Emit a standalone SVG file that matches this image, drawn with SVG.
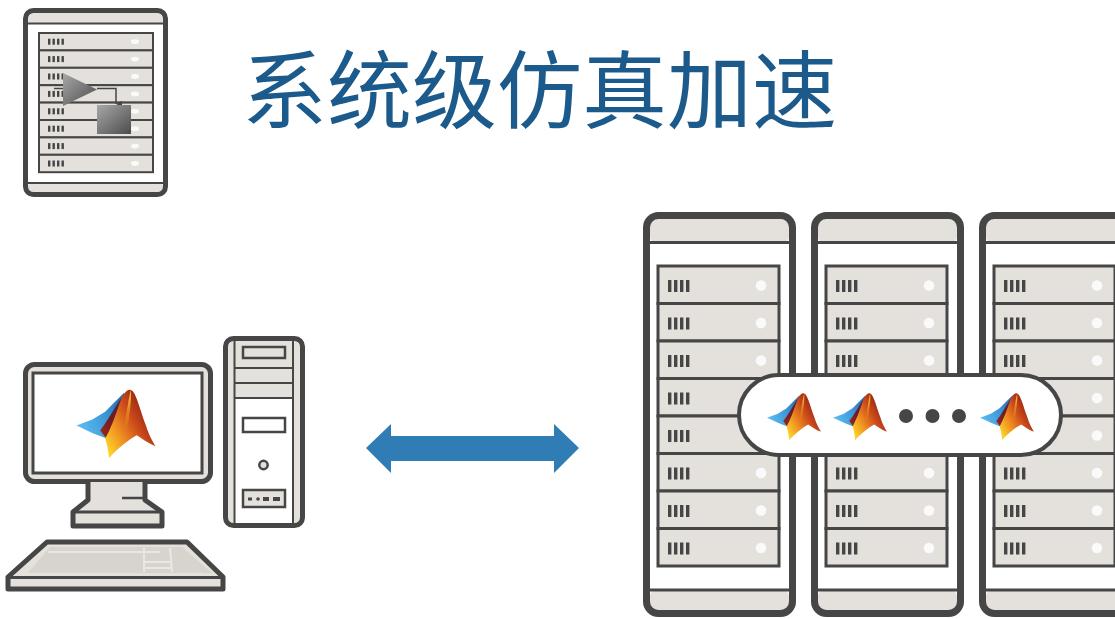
<svg xmlns="http://www.w3.org/2000/svg" width="1115" height="619" viewBox="0 0 1115 619">
  <style>
    .ln { stroke: #464646; fill: none; }
    .pn { fill: #e4e1dc; stroke: #464646; }
    .wh { fill: #ffffff; stroke: #464646; }
    .dk { fill: #464646; }
    .title { font-family: "Noto Sans CJK SC", "Noto Sans", sans-serif; font-size: 85px; fill: #1b5a8b; }
  </style>
  <defs>
    <linearGradient id="gBlue" x1="0" y1="0.6" x2="1" y2="0.2">
      <stop offset="0" stop-color="#5cbcf0"/>
      <stop offset="0.55" stop-color="#3a96d6"/>
      <stop offset="1" stop-color="#2168aa"/>
    </linearGradient>
    <linearGradient id="gFold" x1="0" y1="1" x2="1" y2="0">
      <stop offset="0" stop-color="#a02a1c"/>
      <stop offset="0.5" stop-color="#6e1a26"/>
      <stop offset="1" stop-color="#4a2a50"/>
    </linearGradient>
    <linearGradient id="gBody" x1="0.15" y1="1" x2="1" y2="0.35">
      <stop offset="0" stop-color="#fbd22b"/>
      <stop offset="0.3" stop-color="#f09020"/>
      <stop offset="0.62" stop-color="#cc4a1a"/>
      <stop offset="1" stop-color="#861a12"/>
    </linearGradient>
    <linearGradient id="gHi" x1="0" y1="0" x2="0" y2="1">
      <stop offset="0" stop-color="#ffe24a"/>
      <stop offset="1" stop-color="#f6a21f" stop-opacity="0"/>
    </linearGradient>
    <linearGradient id="gGrey" x1="0" y1="0" x2="1" y2="1">
      <stop offset="0" stop-color="#a8a8a8"/>
      <stop offset="1" stop-color="#4c4c4c"/>
    </linearGradient>

    <!-- membrane logo -->
    <symbol id="logo" viewBox="0 0 80 72" overflow="visible">
      <path d="M0,37 L16,31 L29,23 L39,13 L48,4 L50,10 L42,26 L34,40 L30,50 L17,45 Z" fill="url(#gBlue)"/>
      <path d="M24,42 C31,33 37,22 44,11 L46,9 C42,24 36,38 30,50 Z" fill="url(#gFold)"/>
      <path d="M46,8 C49,3 52,0 55,1 C60,2 64,20 70,36 C73,46 77,53 80,58 C72,55 66,50 61,47 C52,52 40,62 33,70 C32,62 31,56 29,50 C34,42 39,28 46,8 Z" fill="url(#gBody)"/>
      <path d="M55,1 C52,14 50,28 48,42 L52,40 C53,27 56,13 55,1 Z" fill="url(#gHi)"/>
    </symbol>

    <!-- server unit, large rack -->
    <symbol id="unit" overflow="visible">
      <rect x="0" y="0" width="121" height="37.5" class="pn" stroke-width="3"/>
      <rect x="10" y="14" width="3.4" height="12" class="dk"/>
      <rect x="16" y="14" width="3.4" height="12" class="dk"/>
      <rect x="22" y="14" width="3.4" height="12" class="dk"/>
      <rect x="28" y="14" width="3.4" height="12" class="dk"/>
      <circle cx="103" cy="19.5" r="5.3" fill="#fafafa"/>
    </symbol>

    <!-- full rack cabinet -->
    <symbol id="rack" overflow="visible">
      <rect x="3.5" y="3.5" width="146" height="398" rx="12" fill="#ffffff"/>
      <rect x="7" y="7" width="139" height="24" rx="6" fill="#e4e1dc"/>
      <rect x="7" y="378" width="139" height="21" rx="6" fill="#e4e1dc"/>
      <line x1="7" y1="30.5" x2="146" y2="30.5" class="ln" stroke-width="3"/>
      <line x1="7" y1="378" x2="146" y2="378" class="ln" stroke-width="3"/>
      <use href="#unit" x="15" y="54"/>
      <use href="#unit" x="15" y="91.5"/>
      <use href="#unit" x="15" y="129"/>
      <use href="#unit" x="15" y="166.5"/>
      <use href="#unit" x="15" y="204"/>
      <use href="#unit" x="15" y="241.5"/>
      <use href="#unit" x="15" y="279"/>
      <use href="#unit" x="15" y="316.5"/>
      <rect x="3.5" y="3.5" width="146" height="398" rx="12" class="ln" stroke-width="7"/>
    </symbol>

    <!-- server unit, small icon -->
    <symbol id="sunit" overflow="visible">
      <rect x="0" y="0" width="114" height="17.4" class="pn" stroke-width="2"/>
      <rect x="9" y="5.7" width="2.4" height="6" class="dk"/>
      <rect x="13.5" y="5.7" width="2.4" height="6" class="dk"/>
      <rect x="18" y="5.7" width="2.4" height="6" class="dk"/>
      <rect x="22.5" y="5.7" width="2.4" height="6" class="dk"/>
      <ellipse cx="96" cy="8.7" rx="4" ry="2.4" fill="#fafafa"/>
    </symbol>

    <marker id="tipDown" viewBox="0 0 6 6" refX="3" refY="6" markerWidth="6" markerHeight="6" markerUnits="userSpaceOnUse" orient="auto">
      <path d="M0,0 L6,0 L3,6 Z" fill="#464646"/>
    </marker>
  </defs>

  <rect width="1115" height="619" fill="#ffffff"/>

  <!-- heading -->
  <g id="title">
    <text class="title" x="242" y="122">系统级仿真加速</text>
  </g>

  <!-- simulation-on-server icon -->
  <g id="sim-server">
    <rect x="25.5" y="10.5" width="140" height="184" rx="8" fill="#ffffff"/>
    <rect x="28" y="13" width="135" height="11" rx="4" fill="#e4e1dc"/>
    <rect x="28" y="183" width="135" height="9" rx="4" fill="#e4e1dc"/>
    <line x1="28" y1="23.5" x2="163" y2="23.5" class="ln" stroke-width="2"/>
    <line x1="28" y1="183" x2="163" y2="183" class="ln" stroke-width="2"/>
    <use href="#sunit" x="39" y="33"/>
    <use href="#sunit" x="39" y="50.4"/>
    <use href="#sunit" x="39" y="67.8"/>
    <use href="#sunit" x="39" y="85.2"/>
    <use href="#sunit" x="39" y="102.6"/>
    <use href="#sunit" x="39" y="120"/>
    <use href="#sunit" x="39" y="137.4"/>
    <use href="#sunit" x="39" y="154.8"/>
    <rect x="25.5" y="10.5" width="140" height="184" rx="8" class="ln" stroke-width="5"/>
    <!-- gain block feeding a subsystem -->
    <line x1="54" y1="88.5" x2="64" y2="88.5" class="ln" stroke-width="1.5"/>
    <polyline points="97,88.5 116,88.5 116,104" class="ln" stroke-width="1.5" marker-end="url(#tipDown)"/>
    <polygon points="63,73 63,106 97,89.5" fill="url(#gGrey)"/>
    <rect x="97" y="105" width="34" height="29" fill="url(#gGrey)"/>
  </g>

  <!-- desktop workstation -->
  <g id="workstation">
    <!-- monitor -->
    <rect x="25.5" y="364.5" width="185" height="117" rx="9" class="pn" stroke-width="5"/>
    <rect x="33" y="373" width="169" height="100" class="wh" stroke-width="3"/>
    <use href="#logo" x="76" y="389" width="80" height="71"/>
    <path d="M88,482 L88,500 L73,512 L73,526 L162,526 L162,512 L145,500 L145,482" class="pn" stroke-width="5" stroke-linejoin="round"/>
    <line x1="73" y1="512" x2="162" y2="512" class="ln" stroke-width="3"/>
    <line x1="122" y1="498" x2="145" y2="498" class="ln" stroke-width="2.5"/>
    <!-- keyboard -->
    <path d="M47,542 L187,542 L223,577 L223,589 L8,589 L8,577 Z" class="pn" stroke-width="5" stroke-linejoin="round"/>
    <path d="M50,547 L182,547 L212,573 L28,573 Z" fill="#d7d4ce"/>
    <line x1="48" y1="552" x2="160" y2="552" stroke="#e9e7e3" stroke-width="2"/>
    <line x1="144" y1="548" x2="144" y2="572" stroke="#e9e7e3" stroke-width="2"/>
    <line x1="170" y1="548" x2="172" y2="572" stroke="#e9e7e3" stroke-width="2"/>
    <line x1="144" y1="562" x2="171" y2="562" stroke="#e9e7e3" stroke-width="2"/>
    <line x1="144" y1="568" x2="171" y2="568" stroke="#e9e7e3" stroke-width="2"/>
    <line x1="8" y1="577.5" x2="223" y2="577.5" class="ln" stroke-width="3"/>
    <!-- tower -->
    <rect x="225.5" y="338.5" width="77" height="187" rx="8" class="pn" stroke-width="5"/>
    <rect x="234.5" y="398" width="58.5" height="125" fill="#ffffff"/>
    <line x1="234.5" y1="341" x2="234.5" y2="523" class="ln" stroke-width="2"/>
    <line x1="293" y1="341" x2="293" y2="523" class="ln" stroke-width="2"/>
    <line x1="234.5" y1="368" x2="293" y2="368" class="ln" stroke-width="2"/>
    <line x1="234.5" y1="383" x2="293" y2="383" class="ln" stroke-width="2"/>
    <line x1="234.5" y1="398" x2="293" y2="398" class="ln" stroke-width="2"/>
    <rect x="243" y="347" width="42" height="11" class="pn" stroke-width="2.5"/>
    <rect x="243" y="418" width="42" height="14" class="wh" stroke-width="2.5"/>
    <circle cx="263.5" cy="465" r="4.2" class="pn" stroke-width="2.5"/>
    <rect x="243" y="490" width="42" height="17" class="pn" stroke-width="2.5"/>
    <rect x="248" y="497.5" width="4" height="3" class="dk"/>
    <circle cx="258" cy="499" r="1.8" class="dk"/>
    <rect x="263" y="497" width="6" height="4" class="dk"/>
    <rect x="273" y="497" width="7" height="4" class="dk"/>
  </g>

  <!-- bidirectional link -->
  <g id="connectors">
    <polygon points="366,448 391,424 391,436 554,436 554,424 579,448 554,473 554,461 391,461 391,473" fill="#2f7db4"/>
  </g>

  <!-- cluster racks -->
  <g id="rack-1"><use href="#rack" x="643" y="212"/></g>
  <g id="rack-2"><use href="#rack" x="811" y="212"/></g>
  <g id="rack-3"><use href="#rack" x="979" y="212"/></g>

  <!-- parallel workers -->
  <g id="workers">
    <rect x="739" y="375" width="322" height="80" rx="40" class="wh" stroke-width="4"/>
    <use href="#logo" x="767" y="392" width="54" height="50"/>
    <use href="#logo" x="833" y="392" width="54" height="50"/>
    <circle cx="906" cy="416" r="7" class="dk"/>
    <circle cx="932.5" cy="416" r="7" class="dk"/>
    <circle cx="959" cy="416" r="7" class="dk"/>
    <use href="#logo" x="980" y="392" width="54" height="50"/>
  </g>
</svg>
